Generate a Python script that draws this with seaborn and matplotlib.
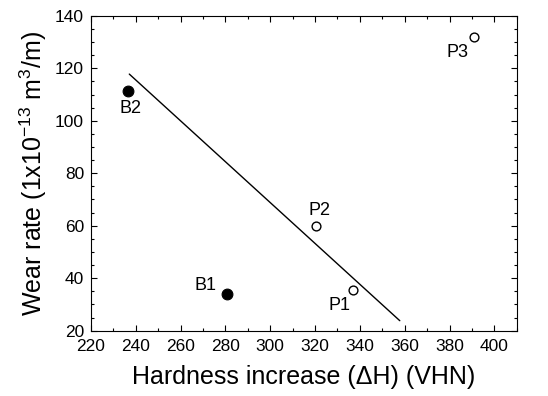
import matplotlib
matplotlib.use("Agg")
import matplotlib.pyplot as plt
import seaborn as sns
import pandas as pd
from matplotlib.ticker import MultipleLocator

sns.set_theme(style="ticks")
plt.rcParams['font.family'] = ['Liberation Sans', 'DejaVu Sans']
plt.rcParams['mathtext.fontset'] = 'custom'
plt.rcParams['mathtext.rm'] = 'Liberation Sans'
plt.rcParams['text.color'] = 'black'
plt.rcParams['axes.labelcolor'] = 'black'
plt.rcParams['xtick.color'] = 'black'
plt.rcParams['ytick.color'] = 'black'

labels = ["B1", "B2", "P1", "P2", "P3"]
hardness = [280.5, 236.5, 337.0, 320.2, 391.0]
wear = [34.0, 111.4, 35.6, 59.9, 132.0]
group = ["B", "B", "P", "P", "P"]

fit_x = [237.1, 357.8]
fit_y = [117.8, 23.8]

df = pd.DataFrame({"hardness": hardness, "wear": wear, "group": group, "label": labels})
fit = pd.DataFrame({"x": fit_x, "y": fit_y})

fig = plt.figure(figsize=(5.48, 3.96), dpi=100)
ax = fig.add_axes([0.166, 0.165, 0.777, 0.795])

sns.lineplot(data=fit, x="x", y="y", ax=ax, color="black", linewidth=1.0)
b = df[df.group == "B"]
p = df[df.group == "P"]
sns.scatterplot(data=b, x="hardness", y="wear", ax=ax, color="black", s=60,
                edgecolor="black", linewidth=0.8, zorder=3)
sns.scatterplot(data=p, x="hardness", y="wear", ax=ax, facecolor="white", s=40,
                edgecolor="black", linewidth=1.0, zorder=3)

offsets = {"B1": (-15, 6), "B2": (1.5, -12.5), "P1": (-9.5, -11),
           "P2": (3, 11.5), "P3": (-12, -11)}
for lab, x, y in zip(labels, hardness, wear):
    dx, dy = offsets[lab]
    ax.annotate(lab, (x, y), xytext=(dx, dy), textcoords="offset points",
                ha="center", va="center", fontsize=13, color="black")

ax.set_xlim(220, 410)
ax.set_ylim(20, 140)
ax.xaxis.set_major_locator(MultipleLocator(20))
ax.xaxis.set_minor_locator(MultipleLocator(10))
ax.yaxis.set_major_locator(MultipleLocator(20))
ax.yaxis.set_minor_locator(MultipleLocator(5))
ax.tick_params(which="both", direction="in", top=True, right=True, labelsize=12.5,
               colors="black")
ax.tick_params(axis="x", pad=6)
ax.tick_params(axis="y", pad=5)
ax.tick_params(which="major", length=4, width=0.8)
ax.tick_params(which="minor", length=2.5, width=0.8)
for s in ax.spines.values():
    s.set_linewidth(0.8)
    s.set_color("black")

ax.set_xlabel("Hardness increase (\u0394H) (VHN)", fontsize=18, labelpad=8)
ax.set_ylabel("Wear rate (1x10$^{-13}$ m$^{3}$/m)", fontsize=18, labelpad=4)

fig.savefig("out.png", dpi=100)
